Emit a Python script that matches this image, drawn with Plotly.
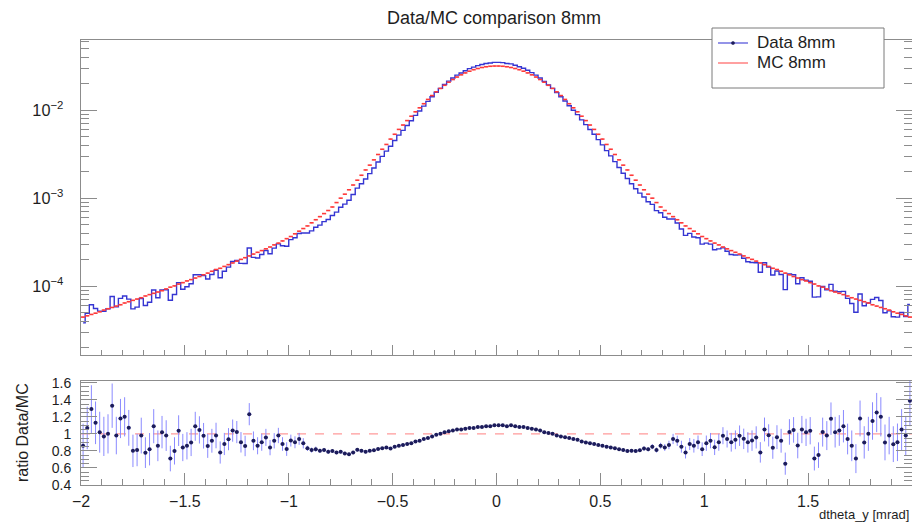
import numpy as np
import plotly.graph_objects as go

# ---------------- data ----------------
x_min, x_max = -2.0, 2.0
n_bins = 200
bin_w = (x_max - x_min) / n_bins
centers = x_min + bin_w * (np.arange(n_bins) + 0.5)

mc_8mm = [
    4.47e-5, 4.62e-5, 4.79e-5, 4.95e-5, 5.13e-5, 5.37e-5, 5.56e-5, 5.75e-5, 5.96e-5, 6.17e-5,
    6.46e-5, 6.68e-5, 6.92e-5, 7.16e-5, 7.41e-5, 7.76e-5, 8.04e-5, 8.32e-5, 8.61e-5, 8.91e-5,
    9.33e-5, 9.77e-5, 1.01e-4, 1.06e-4, 1.10e-4, 1.15e-4, 1.19e-4, 1.24e-4, 1.29e-4, 1.35e-4,
    1.41e-4, 1.48e-4, 1.55e-4, 1.60e-4, 1.68e-4, 1.76e-4, 1.84e-4, 1.93e-4, 2.02e-4, 2.11e-4,
    2.21e-4, 2.32e-4, 2.43e-4, 2.54e-4, 2.66e-4, 2.79e-4, 2.95e-4, 3.09e-4, 3.27e-4, 3.47e-4,
    3.67e-4, 3.94e-4, 4.22e-4, 4.52e-4, 4.84e-4, 5.25e-4, 5.69e-4, 6.17e-4, 6.68e-4, 7.24e-4,
    7.94e-4, 8.91e-4, 1.00e-3, 1.11e-3, 1.245e-3, 1.41e-3, 1.60e-3, 1.82e-3, 2.09e-3, 2.37e-3,
    2.72e-3, 3.13e-3, 3.59e-3, 4.07e-3, 4.68e-3, 5.31e-3, 6.03e-3, 6.76e-3, 7.59e-3, 8.51e-3,
    9.55e-3, 1.06e-2, 1.18e-2, 1.32e-2, 1.46e-2, 1.61e-2, 1.76e-2, 1.91e-2, 2.07e-2, 2.22e-2,
    2.37e-2, 2.51e-2, 2.64e-2, 2.76e-2, 2.87e-2, 2.96e-2, 3.04e-2, 3.10e-2, 3.14e-2, 3.16e-2,
    3.16e-2, 3.14e-2, 3.10e-2, 3.04e-2, 2.96e-2, 2.87e-2, 2.76e-2, 2.64e-2, 2.51e-2, 2.37e-2,
    2.22e-2, 2.07e-2, 1.91e-2, 1.76e-2, 1.61e-2, 1.46e-2, 1.32e-2, 1.18e-2, 1.06e-2, 9.55e-3,
    8.51e-3, 7.59e-3, 6.76e-3, 6.03e-3, 5.31e-3, 4.68e-3, 4.07e-3, 3.59e-3, 3.13e-3, 2.72e-3,
    2.37e-3, 2.09e-3, 1.82e-3, 1.60e-3, 1.41e-3, 1.245e-3, 1.11e-3, 1.00e-3, 8.91e-4, 7.94e-4,
    7.24e-4, 6.68e-4, 6.17e-4, 5.69e-4, 5.25e-4, 4.84e-4, 4.52e-4, 4.22e-4, 3.94e-4, 3.67e-4,
    3.47e-4, 3.27e-4, 3.09e-4, 2.95e-4, 2.79e-4, 2.66e-4, 2.54e-4, 2.43e-4, 2.32e-4, 2.21e-4,
    2.11e-4, 2.02e-4, 1.93e-4, 1.84e-4, 1.76e-4, 1.68e-4, 1.60e-4, 1.55e-4, 1.48e-4, 1.41e-4,
    1.35e-4, 1.29e-4, 1.24e-4, 1.19e-4, 1.15e-4, 1.10e-4, 1.06e-4, 1.01e-4, 9.77e-5, 9.33e-5,
    8.91e-5, 8.61e-5, 8.32e-5, 8.04e-5, 7.76e-5, 7.41e-5, 7.16e-5, 6.92e-5, 6.68e-5, 6.46e-5,
    6.17e-5, 5.96e-5, 5.75e-5, 5.56e-5, 5.37e-5, 5.13e-5, 4.95e-5, 4.79e-5, 4.62e-5, 4.47e-5,
]

data_8mm = [
    3.84e-5, 4.94e-5, 6.18e-5, 5.59e-5, 5.23e-5, 5.21e-5, 5.56e-5, 7.65e-5, 5.84e-5, 7.28e-5,
    7.75e-5, 7.15e-5, 5.54e-5, 5.80e-5, 7.26e-5, 6.05e-5, 6.59e-5, 9.07e-5, 7.40e-5, 9.09e-5,
    9.14e-5, 6.94e-5, 8.08e-5, 1.10e-4, 9.24e-5, 9.89e-5, 1.07e-4, 1.35e-4, 1.35e-4, 1.32e-4,
    1.21e-4, 1.36e-4, 1.52e-4, 1.25e-4, 1.48e-4, 1.65e-4, 1.91e-4, 1.97e-4, 1.82e-4, 1.81e-4,
    2.72e-4, 2.13e-4, 2.09e-4, 2.29e-4, 2.55e-4, 2.34e-4, 2.71e-4, 3.03e-4, 2.88e-4, 2.85e-4,
    3.38e-4, 3.55e-4, 3.97e-4, 4.02e-4, 4.02e-4, 4.25e-4, 4.67e-4, 4.94e-4, 5.41e-4, 5.72e-4,
    6.35e-4, 6.95e-4, 7.90e-4, 8.55e-4, 9.46e-4, 1.10e-3, 1.30e-3, 1.46e-3, 1.65e-3, 1.90e-3,
    2.20e-3, 2.57e-3, 2.98e-3, 3.42e-3, 3.88e-3, 4.51e-3, 5.19e-3, 5.88e-3, 6.68e-3, 7.57e-3,
    8.69e-3, 9.75e-3, 1.109e-2, 1.254e-2, 1.416e-2, 1.594e-2, 1.76e-2, 1.948e-2, 2.132e-2, 2.309e-2,
    2.489e-2, 2.636e-2, 2.798e-2, 2.953e-2, 3.071e-2, 3.197e-2, 3.283e-2, 3.379e-2, 3.423e-2, 3.476e-2,
    3.476e-2, 3.454e-2, 3.379e-2, 3.344e-2, 3.226e-2, 3.100e-2, 2.981e-2, 2.825e-2, 2.661e-2, 2.489e-2,
    2.309e-2, 2.111e-2, 1.929e-2, 1.760e-2, 1.578e-2, 1.416e-2, 1.267e-2, 1.121e-2, 9.96e-3, 8.88e-3,
    7.74e-3, 6.83e-3, 6.02e-3, 5.31e-3, 4.62e-3, 4.02e-3, 3.46e-3, 3.02e-3, 2.60e-3, 2.23e-3,
    1.92e-3, 1.67e-3, 1.46e-3, 1.28e-3, 1.14e-3, 1.03e-3, 9.10e-4, 8.50e-4, 7.22e-4, 6.83e-4,
    6.08e-4, 5.81e-4, 5.80e-4, 5.23e-4, 4.46e-4, 3.78e-4, 3.98e-4, 3.63e-4, 3.55e-4, 3.01e-4,
    3.09e-4, 3.01e-4, 2.60e-4, 2.66e-4, 2.73e-4, 2.50e-4, 2.29e-4, 2.26e-4, 2.27e-4, 2.08e-4,
    1.90e-4, 1.86e-4, 1.85e-4, 1.44e-4, 1.85e-4, 1.65e-4, 1.34e-4, 1.49e-4, 1.36e-4, 9.17e-5,
    1.38e-4, 1.35e-4, 1.07e-4, 1.25e-4, 1.17e-4, 1.14e-4, 7.53e-5, 7.58e-5, 9.97e-5, 9.14e-5,
    1.05e-4, 8.78e-5, 8.65e-5, 8.76e-5, 7.29e-5, 6.37e-5, 5.08e-5, 8.17e-5, 6.01e-5, 6.46e-5,
    7.10e-5, 7.45e-5, 6.90e-5, 5.00e-5, 5.26e-5, 4.51e-5, 4.46e-5, 5.03e-5, 4.53e-5, 6.21e-5,
]

ratio_err = [
    0.26, 0.25, 0.28, 0.25, 0.24, 0.23, 0.23, 0.26, 0.22, 0.23,
    0.23, 0.21, 0.19, 0.19, 0.21, 0.18, 0.19, 0.20, 0.18, 0.19,
    0.18, 0.15, 0.16, 0.18, 0.16, 0.16, 0.16, 0.17, 0.16, 0.15,
    0.14, 0.14, 0.15, 0.13, 0.13, 0.13, 0.13, 0.13, 0.12, 0.12,
    0.13, 0.11, 0.10, 0.10, 0.10, 0.09, 0.09, 0.09, 0.08, 0.08,
    0.07, 0.07, 0.07, 0.06, 0.03, 0.03, 0.03, 0.025, 0.025, 0.025,
    0.02, 0.02, 0.02, 0.02, 0.02, 0.02, 0.02, 0.02, 0.02, 0.02,
    0.018, 0.016, 0.015, 0.015, 0.015, 0.015, 0.015, 0.015, 0.015, 0.015,
    0.012, 0.012, 0.012, 0.012, 0.012, 0.012, 0.012, 0.012, 0.012, 0.012,
    0.01, 0.01, 0.01, 0.01, 0.01, 0.01, 0.01, 0.01, 0.01, 0.01,
    0.01, 0.01, 0.01, 0.01, 0.01, 0.01, 0.01, 0.01, 0.01, 0.01,
    0.012, 0.012, 0.012, 0.012, 0.012, 0.012, 0.012, 0.012, 0.012, 0.012,
    0.015, 0.015, 0.015, 0.015, 0.015, 0.015, 0.015, 0.015, 0.015, 0.015,
    0.02, 0.02, 0.02, 0.02, 0.02, 0.025, 0.025, 0.03, 0.03, 0.035,
    0.04, 0.05, 0.06, 0.06, 0.07, 0.07, 0.07, 0.08, 0.08, 0.08,
    0.09, 0.09, 0.09, 0.10, 0.10, 0.10, 0.11, 0.11, 0.12, 0.12,
    0.12, 0.12, 0.13, 0.12, 0.14, 0.13, 0.13, 0.14, 0.14, 0.13,
    0.15, 0.15, 0.15, 0.16, 0.16, 0.16, 0.14, 0.15, 0.17, 0.17,
    0.19, 0.18, 0.18, 0.19, 0.18, 0.18, 0.17, 0.21, 0.19, 0.20,
    0.22, 0.23, 0.23, 0.21, 0.22, 0.21, 0.22, 0.24, 0.23, 0.30,
]

ratio = np.array(data_8mm) / np.array(mc_8mm)

# ---------------- styling ----------------
FONT = "Liberation Sans, Arial, sans-serif"
TXT = "#1e1e1e"
FRAME = "#8c8c8c"
BLUE = "#3535d2"
RED = "#ff3a3a"

fig = go.Figure()

# Data: histogram outline
fig.add_trace(go.Scatter(
    x=centers, y=data_8mm, mode="lines",
    line=dict(color=BLUE, width=1.4, shape="hvh"),
    xaxis="x", yaxis="y", showlegend=False, name="Data 8mm"))
# MC: drawn ROOT "E" style -> horizontal bin-width bars per bin
fig.add_trace(go.Scatter(
    x=centers, y=mc_8mm, mode="markers",
    marker=dict(color=RED, size=1),
    error_x=dict(type="constant", value=bin_w / 2, color=RED, thickness=1.6, width=0),
    xaxis="x", yaxis="y", showlegend=False, name="MC 8mm"))

fig.add_trace(go.Scatter(
    x=centers, y=ratio, mode="markers",
    marker=dict(color="#1c1c5a", size=4),
    error_y=dict(type="data", array=ratio_err, color="#8a8aff", thickness=1, width=0),
    error_x=dict(type="constant", value=bin_w / 2, color="#8a8aff", thickness=1, width=0),
    xaxis="x2", yaxis="y2", showlegend=False, name="ratio"))

axis_base = dict(
    showline=True, linecolor=FRAME, linewidth=1,
    ticks="inside", tickcolor=FRAME, tickwidth=1,
    showgrid=False, zeroline=False,
)

W, H = 912, 522
ml, mr, mt, mb = 81, 0, 40, 37
top_dom = [(485 - 355) / (H - mt - mb), 1.0]
bot_dom = [0.0, (485 - 381) / (H - mt - mb)]

fig.update_layout(
    width=W, height=H,
    margin=dict(l=ml, r=mr, t=mt, b=mb),
    paper_bgcolor="white", plot_bgcolor="white",
    font=dict(family=FONT, color=TXT),
    title=dict(text="Data/MC comparison 8mm", x=494 / W, xanchor="center",
               y=1 - 18 / H, yanchor="middle", yref="container",
               font=dict(family=FONT, size=18, color=TXT)),
    xaxis=dict(axis_base, range=[x_min, x_max], tick0=-2, dtick=0.5, ticklen=10,
               mirror=True, showticklabels=False, anchor="y",
               minor=dict(dtick=0.1, ticks="inside", ticklen=5, tickcolor=FRAME)),
    yaxis=dict(axis_base, type="log", range=[-4.78, -1.205], dtick=1,
               exponentformat="power", ticklen=16, mirror="ticks", anchor="x",
               domain=top_dom, ticklabelstandoff=14,
               tickfont=dict(family=FONT, size=13, color=TXT),
               minor=dict(dtick="D1", ticks="inside", ticklen=8, tickcolor=FRAME)),
    xaxis2=dict(axis_base, range=[x_min, x_max], tick0=-2, dtick=0.5, ticklen=12,
                mirror=True, anchor="y2", ticklabelstandoff=2,
                tickfont=dict(family=FONT, size=16, color=TXT),
                minor=dict(dtick=0.1, ticks="inside", ticklen=6, tickcolor=FRAME)),
    yaxis2=dict(axis_base, range=[0.4, 1.62], tick0=0.4, dtick=0.2, ticklen=16,
                mirror="ticks", anchor="x2", domain=bot_dom, ticklabelstandoff=6,
                tickfont=dict(family=FONT, size=14, color=TXT),
                minor=dict(dtick=0.05, ticks="inside", ticklen=8, tickcolor=FRAME)),
)

# reference line at ratio = 1
fig.add_shape(type="line", xref="x2", yref="y2", x0=x_min, x1=x_max, y0=1, y1=1,
              line=dict(color="#ff9a9a", width=1.2, dash="dash"), layer="below")

# axis titles
fig.add_annotation(text="dtheta_y [mrad]", xref="paper", yref="paper", x=1, y=0,
                   xanchor="right", yanchor="middle", xshift=-1, yshift=-29,
                   showarrow=False, font=dict(family=FONT, size=13, color=TXT))
fig.add_annotation(text="ratio Data/MC", xref="paper", yref="paper", x=0,
                   y=(bot_dom[0] + bot_dom[1]) / 2, xanchor="center", yanchor="middle",
                   xshift=-59, textangle=-90, showarrow=False,
                   font=dict(family=FONT, size=16, color=TXT))

# legend box (drawn by hand to match the original layout)
pw, ph = W - ml - mr, H - mt - mb
def px(x):
    return (x - ml) / pw
def py(y):
    return (H - mb - y) / ph

fig.add_shape(type="rect", xref="paper", yref="paper",
              x0=px(712), x1=px(884), y0=py(88), y1=py(28),
              line=dict(color="#7a7a7a", width=1), fillcolor="white", layer="above")
fig.add_shape(type="line", xref="paper", yref="paper",
              x0=px(718), x1=px(748), y0=py(43), y1=py(43),
              line=dict(color="#7070e0", width=1.5), layer="above")
fig.add_shape(type="circle", xref="paper", yref="paper",
              xsizemode="pixel", ysizemode="pixel",
              xanchor=px(733), yanchor=py(43), x0=-1.6, x1=1.6, y0=-1.6, y1=1.6,
              fillcolor="#1c1c5a", line=dict(color="#1c1c5a", width=0.5), layer="above")
fig.add_shape(type="line", xref="paper", yref="paper",
              x0=px(718), x1=px(748), y0=py(63), y1=py(63),
              line=dict(color="#ff8080", width=1.5), layer="above")
fig.add_annotation(text="Data 8mm", xref="paper", yref="paper", x=px(755), y=py(43),
                   xanchor="left", yanchor="middle", showarrow=False,
                   font=dict(family=FONT, size=17, color=TXT))
fig.add_annotation(text="MC 8mm", xref="paper", yref="paper", x=px(755), y=py(63),
                   xanchor="left", yanchor="middle", showarrow=False,
                   font=dict(family=FONT, size=17, color=TXT))

fig.write_html("out.html")
